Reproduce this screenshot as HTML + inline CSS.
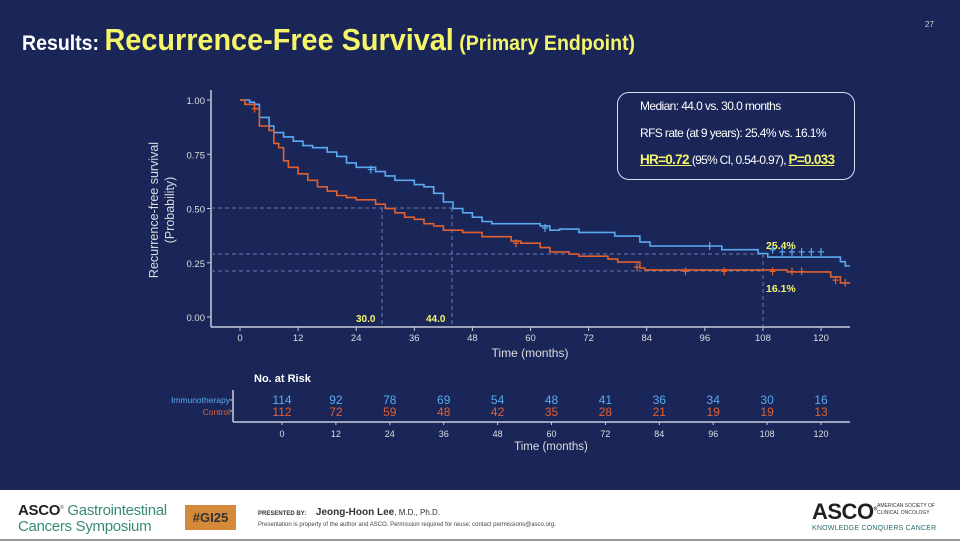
<!DOCTYPE html>
<html><head><meta charset="utf-8"><style>
body{margin:0;width:960px;height:541px;overflow:hidden;background:#1a2658;font-family:"Liberation Sans",sans-serif}
.t{position:absolute;white-space:nowrap}
</style></head><body>
<div style="position:absolute;left:0;top:0;width:960px;height:490px;background:#1a2658"></div>
<div class="t" style="left:22px;top:22px;color:#fff;font-weight:bold;font-size:21px;transform:scaleX(.93);transform-origin:left">Results: <span style="color:#f5f56a;font-size:31px">Recurrence-Free Survival</span> <span style="color:#f5f56a;font-size:21px">(Primary Endpoint)</span></div>
<div class="t" style="left:925px;top:20px;color:#ccc;font-size:8px">27</div>
<svg id="s" width="960" height="490" style="position:absolute;left:0;top:0" font-family="Liberation Sans" ></svg>
<div class="t" style="left:0;top:490px;width:960px;height:51px;background:#fff;border-bottom:2px solid #999;box-sizing:border-box"></div>
<div class="t" style="left:18px;top:500px;font-size:15px;color:#555;line-height:16px;letter-spacing:-.3px"><b style="color:#222">ASCO</b><sup style="font-size:5px">®</sup> <span style="color:#3a8a7a">Gastrointestinal</span><br><span style="color:#3a8a7a">Cancers Symposium</span></div>
<div class="t" style="left:185px;top:505px;width:51px;height:25px;background:#d48a3a;color:#333;font-weight:bold;font-size:13px;line-height:25px;text-align:center">#GI25</div>
<div class="t" style="left:258px;top:507px;font-size:6px;font-weight:bold;color:#333">PRESENTED BY: <span style="font-size:10px;margin-left:8px">Jeong-Hoon Lee</span><span style="font-weight:normal;font-size:8px">, M.D., Ph.D.</span></div>
<div class="t" style="left:258px;top:522px;font-size:6px;color:#444">Presentation is property of the author and ASCO. Permission required for reuse; contact permissions@asco.org.</div>
<div class="t" style="left:812px;top:499px;font-size:22px;font-weight:bold;color:#222;letter-spacing:-.5px">ASCO<sup style="font-size:5px">®</sup></div>
<div class="t" style="left:877px;top:503px;font-size:5px;color:#333;line-height:7px">AMERICAN SOCIETY OF<br>CLINICAL ONCOLOGY</div>
<div class="t" style="left:812px;top:525px;font-size:7px;color:#2a6a6a;letter-spacing:.2px">KNOWLEDGE CONQUERS CANCER</div>
<div class="t" style="left:617px;top:92px;width:236px;height:86px;border:1.5px solid #dde;border-radius:12px"></div>
<div class="t" style="left:640px;top:99px;color:#fff;font-size:12px;letter-spacing:-.6px">Median: 44.0 vs. 30.0 months</div>
<div class="t" style="left:640px;top:126px;color:#fff;font-size:12px;letter-spacing:-.6px">RFS rate (at 9 years): 25.4% vs. 16.1%</div>
<div class="t" style="left:640px;top:152px;color:#fff;font-size:12px;letter-spacing:-.7px"><b style="color:#f5f56a;text-decoration:underline;font-size:13.5px">HR=0.72 </b>(95% CI, 0.54-0.97), <b style="color:#f5f56a;text-decoration:underline;font-size:13.5px">P=0.033</b></div>
<script>
var s=document.getElementById('s'),h='';
function X(m){return 240+m*4.842}function Y(p){return 317-p*217}
var tc='#c8cbd8';
h+='<line x1="211" y1="90" x2="211" y2="327" stroke="'+tc+'" stroke-width="1.5"/><line x1="211" y1="327" x2="850" y2="327" stroke="'+tc+'" stroke-width="1.5"/>';
[1,.75,.5,.25,0].forEach(function(p){h+='<text x="205" y="'+(Y(p)+4)+'" fill="#ddd" font-size="9.5" text-anchor="end">'+p.toFixed(2)+'</text><line x1="207" x2="211" y1="'+Y(p)+'" y2="'+Y(p)+'" stroke="'+tc+'"/>'});
for(var m=0;m<=120;m+=12){h+='<line x1="'+X(m)+'" x2="'+X(m)+'" y1="327" y2="331" stroke="'+tc+'"/><text x="'+X(m)+'" y="341" fill="#ddd" font-size="9.5" text-anchor="middle">'+m+'</text>'}
h+='<text x="530" y="357" fill="#ddd" font-size="12" text-anchor="middle">Time (months)</text>';
h+='<text transform="translate(158,210) rotate(-90)" fill="#ddd" font-size="12.5" text-anchor="middle">Recurrence-free survival</text><text transform="translate(174,210) rotate(-90)" fill="#ddd" font-size="12.5" text-anchor="middle">(Probability)</text>';
var dc='stroke="#6a78b0" stroke-width="1" stroke-dasharray="4,3" fill="none"';
h+='<line x1="211" x2="452" y1="208" y2="208" '+dc+'/><line x1="211" x2="763" y1="254" y2="254" '+dc+'/><line x1="211" x2="763" y1="271" y2="271" '+dc+'/>';
h+='<line x1="382" x2="382" y1="208" y2="327" '+dc+'/><line x1="452" x2="452" y1="208" y2="327" '+dc+'/><line x1="763" x2="763" y1="254" y2="327" '+dc+'/>';
h+='<text x="356" y="322" fill="#f5f56a" font-size="10" font-weight="bold">30.0</text><text x="426" y="322" fill="#f5f56a" font-size="10" font-weight="bold">44.0</text>';
h+='<text x="766" y="249" fill="#f5f56a" font-size="10.5" font-weight="bold">25.4%</text><text x="766" y="292" fill="#f5f56a" font-size="10.5" font-weight="bold">16.1%</text>';
var B=[[0,1],[2,.99],[3,.98],[4,.92],[6,.88],[7,.85],[9,.83],[11,.81],[13,.79],[15,.78],[18,.76],[20,.74],[22,.71],[24,.69],[28,.67],[30,.65],[32,.63],[36,.61],[38,.6],[40,.57],[42,.53],[44,.5],[46,.48],[48,.46],[50,.44],[52,.43],[56,.43],[62,.42],[64,.4],[66,.405],[70,.39],[77.4,.373],[82.6,.345],[84.7,.327],[99.5,.31],[107,.292],[109,.276],[124,.255],[125,.235],[126,.235]];
var R=[[0,1],[1,.98],[3,.96],[4,.88],[6,.86],[7,.8],[8,.78],[9,.72],[10,.69],[12,.66],[14,.63],[16,.6],[18,.58],[20,.56],[22,.55],[24,.54],[28,.52],[30,.5],[32,.48],[34,.46],[36,.45],[38,.43],[40,.42],[42,.4],[46,.39],[50,.37],[56,.35],[58,.34],[62,.32],[64,.3],[68,.29],[70,.28],[76,.267],[78,.253],[82.6,.226],[83.6,.217],[113,.208],[122,.185],[124,.157],[126,.157]];
function P(a,c){var d='M'+X(a[0][0])+','+Y(a[0][1]);for(var i=1;i<a.length;i++){d+='H'+X(a[i][0]).toFixed(1)+'V'+Y(a[i][1]).toFixed(1)}return '<path d="'+d+'" stroke="'+c+'" stroke-width="1.6" fill="none"/>'}
h+=P(B,'#5aaaf0')+P(R,'#e0602e');
[[27,.68,'b'],[63,.41,'b'],[57,.34,'r'],[3,.96,'r'],[97,.327,'b'],[100,.21,'r'],[110,.31,'b'],[112,.3,'b'],[114,.3,'b'],[116,.3,'b'],[118,.3,'b'],[120,.3,'b'],[110,.21,'r'],[114,.21,'r'],[116,.21,'r'],[123,.17,'r'],[125,.157,'r'],[92,.21,'r'],[82,.23,'r']].forEach(function(t){var x=X(t[0]),y=Y(t[1]),c=t[2]=='b'?'#5aaaf0':'#e0602e';h+='<path d="M'+(x-3)+','+y+'h6M'+x+','+(y-4)+'v8" stroke="'+c+'" stroke-width="1.2"/>'});
h+='<text x="254" y="382" fill="#fff" font-size="11" font-weight="bold">No. at Risk</text>';
h+='<text x="230" y="403" fill="#5aaaf0" font-size="8.5" text-anchor="end">Immunotherapy</text><text x="230" y="415" fill="#e0602e" font-size="8.5" text-anchor="end">Control</text>';
h+='<line x1="233" y1="390" x2="233" y2="422" stroke="'+tc+'" stroke-width="1.5"/><line x1="233" y1="422" x2="850" y2="422" stroke="'+tc+'" stroke-width="1.5"/><line x1="230" x2="233" y1="400" y2="400" stroke="'+tc+'"/><line x1="230" x2="233" y1="411" y2="411" stroke="'+tc+'"/>';
var a=[114,92,78,69,54,48,41,36,34,30,16],b=[112,72,59,48,42,35,28,21,19,19,13];
for(var i=0;i<11;i++){var x=282+i*53.9;h+='<text x="'+x+'" y="404" fill="#5aaaf0" font-size="12" text-anchor="middle">'+a[i]+'</text><text x="'+x+'" y="416" fill="#e0602e" font-size="12" text-anchor="middle">'+b[i]+'</text><line x1="'+x+'" x2="'+x+'" y1="422" y2="425" stroke="'+tc+'"/><text x="'+x+'" y="437" fill="#ddd" font-size="9" text-anchor="middle">'+(i*12)+'</text>'}
h+='<text x="551" y="450" fill="#ddd" font-size="11.5" text-anchor="middle">Time (months)</text>';
s.innerHTML=h;
</script>
</body></html>
